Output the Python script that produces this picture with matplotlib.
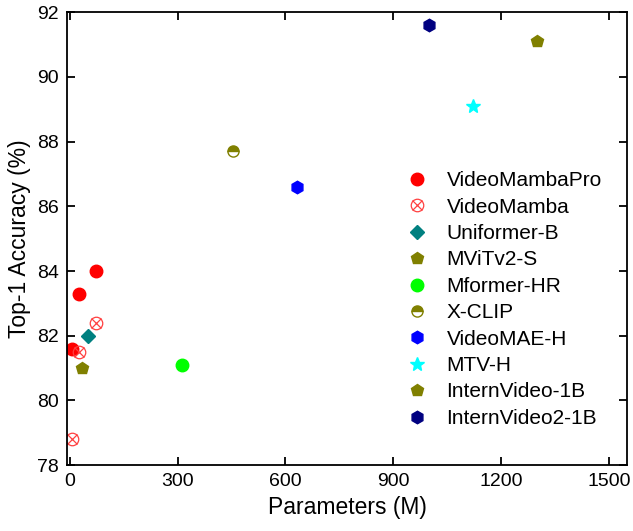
import matplotlib.pyplot as plt
from matplotlib.lines import Line2D

plt.rcParams['font.family'] = ['Liberation Sans', 'DejaVu Sans']

# model name, params (M), top-1 acc
pro_params = [7, 25, 74]
pro_acc = [81.6, 83.3, 84.0]
mamba_params = [7, 26, 74]
mamba_acc = [78.8, 81.5, 82.4]

others = ["Uniformer-B", "MViTv2-S", "Mformer-HR", "X-CLIP", "VideoMAE-H",
          "MTV-H", "InternVideo-1B", "InternVideo2-1B"]
other_params = [50, 35, 311, 453, 633, 1120, 1300, 1000]
other_acc = [82.0, 81.0, 81.1, 87.7, 86.6, 89.1, 91.1, 91.6]
other_marker = ['D', 'p', 'o', 'o', 'h', '*', 'p', 'h']
other_color = ['#008080', '#808000', '#00ff00', '#808000', '#0000ff',
               '#00ffff', '#808000', '#000080']
other_ms = [7, 9, 9, 8, 9, 10, 9, 9]

fig = plt.figure(figsize=(6.33, 5.31), dpi=100)
ax = fig.add_axes([0.106, 0.124, 0.885, 0.853])

handles = []
h = ax.plot(pro_params, pro_acc, 'o', color='red', ms=9, ls='none')[0]
handles.append(h)
ax.plot(mamba_params, mamba_acc, 'o', mfc='none', mec='#ff4040', ms=9, mew=0.9, ls='none')
ax.plot(mamba_params, mamba_acc, 'x', color='#ff4040', ms=6.5, mew=0.9, ls='none')
h1 = Line2D([], [], marker='o', mfc='none', mec='#ff4040', ms=9, mew=0.9, ls='none')
h2 = Line2D([], [], marker='x', color='#ff4040', ms=6.5, mew=0.9, ls='none')
handles.append((h1, h2))

for i in range(len(others)):
    if others[i] == "X-CLIP":
        h = ax.plot(other_params[i], other_acc[i], 'o', color=other_color[i], ms=other_ms[i],
                    fillstyle='top', mfc=other_color[i], mfcalt='white', mec=other_color[i],
                    mew=1.0, ls='none')[0]
    else:
        h = ax.plot(other_params[i], other_acc[i], other_marker[i], color=other_color[i],
                    ms=other_ms[i], ls='none')[0]
    handles.append(h)

labels = ["VideoMambaPro", "VideoMamba"] + others

ax.set_xlim(-7, 1550)
ax.set_ylim(78, 92)
ax.set_xticks([0, 300, 600, 900, 1200, 1500])
ax.set_yticks([78, 80, 82, 84, 86, 88, 90, 92])
ax.tick_params(direction='in', top=True, right=True, length=6, width=1.3, labelsize=14, pad=6)
for s in ax.spines.values():
    s.set_linewidth(1.3)
ax.set_xlabel("Parameters (M)", fontsize=16.5)
ax.set_ylabel("Top-1 Accuracy (%)", fontsize=16.5)

ax.legend(handles, labels, loc='upper left', bbox_to_anchor=(0.623, 0.697), bbox_transform=fig.transFigure,
          frameon=False, fontsize=15, labelspacing=0.355, handletextpad=0.8, handlelength=1.2,
          borderpad=0)

fig.savefig("out.png", dpi=100)
